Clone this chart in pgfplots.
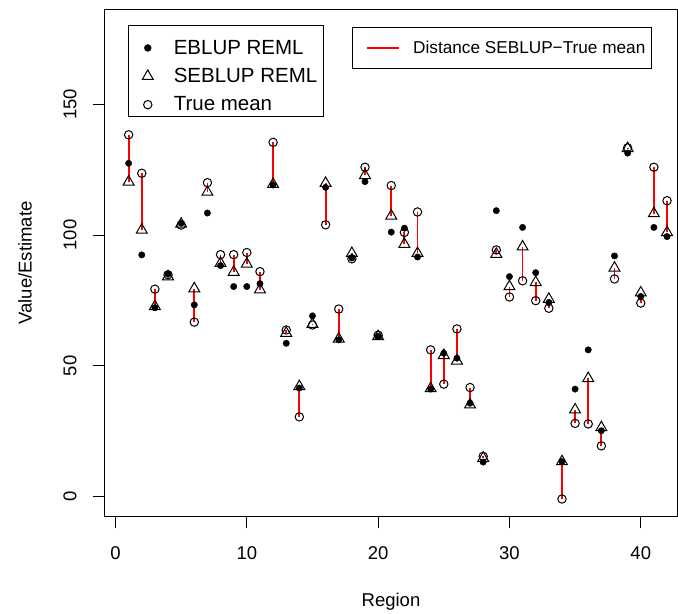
\documentclass[border=0pt]{standalone}
\usepackage{fontspec}
\setmainfont{Liberation Sans}
\usepackage{pgfplots}
\usepackage{pgfplotstable}
\pgfplotsset{compat=1.18}
\pgfplotstableread{
r e s t
1 127.4 120.3 138.3
2 92.4 101.9 123.6
3 72.2 72.7 79.3
4 85.0 84.1 84.8
5 104.5 104.2 103.8
6 73.3 79.5 66.7
7 108.4 116.4 120.0
8 88.3 89.2 92.5
9 80.3 85.8 92.5
10 80.3 88.9 93.3
11 81.4 79.1 86.0
12 119.1 119.4 135.4
13 58.6 62.5 63.7
14 41.5 42.1 30.5
15 69.1 65.9 65.6
16 118.2 119.8 103.9
17 59.9 60.3 71.7
18 91.2 93.0 90.9
19 120.4 122.8 125.9
20 61.2 61.2 61.7
21 101.1 107.3 118.9
22 102.6 96.5 101.0
23 91.6 93.0 108.8
24 41.1 41.3 56.1
25 54.8 54.0 43.0
26 52.9 51.9 64.1
27 35.7 35.1 41.7
28 13.2 14.7 15.4
29 109.3 92.7 94.3
30 84.1 80.3 76.3
31 102.9 95.5 82.5
32 85.6 81.9 74.9
33 74.2 75.5 72.0
34 13.4 13.4 -0.9
35 41.1 33.2 28.0
36 56.1 45.2 27.8
37 25.2 26.4 19.4
38 92.0 87.4 83.2
39 131.3 133.1 133.3
40 76.5 77.9 74.0
41 102.9 108.2 125.9
42 99.4 101.0 113.1
}\data
\begin{document}
\begin{tikzpicture}
\path[use as bounding box] (-105bp,-98bp) rectangle (573bp,516bp);
\begin{axis}[
  at={(0,0)}, anchor=south west,
  scale only axis, width=572bp, height=506bp,
  xmin=-0.8, xmax=42.76, ymin=-7.4, ymax=186,
  xtick={0,10,20,30,40}, ytick={0,50,100,150},
  tick align=outside, tick pos=left, major tick length=12bp,
  axis line style={line width=1bp},
  every tick/.style={black, line width=1bp},
  /pgf/number format/assume math mode=true,
  ticklabel style={font=\fontsize{18.5bp}{22bp}\selectfont},
  xticklabel style={anchor=north, yshift=-15bp},
  yticklabel style={rotate=90, anchor=south, yshift=13bp},
  xlabel={Region}, ylabel={Value/Estimate},
  label style={font=\fontsize{18.5bp}{22bp}\selectfont},
  xlabel style={at={(axis description cs:0.5,-0.170)}, anchor=center},
  ylabel style={at={(axis description cs:-0.1399,0.5)}, anchor=center},
  unbounded coords=jump,
  legend style={at={(axis description cs:0.0407,0.9704)}, anchor=north west,
    draw=black, line width=1bp, font=\fontsize{20.5bp}{24bp}\selectfont,
    inner xsep=4bp, inner ysep=2.5bp, row sep=-1.5bp},
  legend cell align=left,
  legend image code/.code={\path[draw=none,fill=none] (-15bp,-5bp) rectangle (24bp,20bp); \draw[#1] plot coordinates {(0bp,0bp)};},
]
\addplot[only marks, mark=*, mark size=3.2bp, black] table[x=r, y=e] {\data};
\addlegendentry{EBLUP REML}
\addplot[only marks, mark=triangle, mark size=6.3bp, black, line width=1bp] table[x=r, y=s] {\data};
\addlegendentry{SEBLUP REML}
\addplot[only marks, mark=o, mark size=4.2bp, black, line width=1bp] table[x=r, y=t] {\data};
\addlegendentry{True mean}
\addplot[draw=red, color=red, line width=1.8bp, no marks, forget plot] coordinates {
(1,120.3)(1,138.3)(1,nan)
(2,101.9)(2,123.6)(2,nan)
(3,72.7)(3,79.3)(3,nan)
(4,84.1)(4,84.8)(4,nan)
(5,104.2)(5,103.8)(5,nan)
(6,79.5)(6,66.7)(6,nan)
(7,116.4)(7,120.0)(7,nan)
(8,89.2)(8,92.5)(8,nan)
(9,85.8)(9,92.5)(9,nan)
(10,88.9)(10,93.3)(10,nan)
(11,79.1)(11,86.0)(11,nan)
(12,119.4)(12,135.4)(12,nan)
(13,62.5)(13,63.7)(13,nan)
(14,42.1)(14,30.5)(14,nan)
(15,65.9)(15,65.6)(15,nan)
(16,119.8)(16,103.9)(16,nan)
(17,60.3)(17,71.7)(17,nan)
(18,93.0)(18,90.9)(18,nan)
(19,122.8)(19,125.9)(19,nan)
(20,61.2)(20,61.7)(20,nan)
(21,107.3)(21,118.9)(21,nan)
(22,96.5)(22,101.0)(22,nan)
(23,93.0)(23,108.8)(23,nan)
(24,41.3)(24,56.1)(24,nan)
(25,54.0)(25,43.0)(25,nan)
(26,51.9)(26,64.1)(26,nan)
(27,35.1)(27,41.7)(27,nan)
(28,14.7)(28,15.4)(28,nan)
(29,92.7)(29,94.3)(29,nan)
(30,80.3)(30,76.3)(30,nan)
(31,95.5)(31,82.5)(31,nan)
(32,81.9)(32,74.9)(32,nan)
(33,75.5)(33,72.0)(33,nan)
(34,13.4)(34,-0.9)(34,nan)
(35,33.2)(35,28.0)(35,nan)
(36,45.2)(36,27.8)(36,nan)
(37,26.4)(37,19.4)(37,nan)
(38,87.4)(38,83.2)(38,nan)
(39,133.1)(39,133.3)(39,nan)
(40,77.9)(40,74.0)(40,nan)
(41,108.2)(41,125.9)(41,nan)
(42,101.0)(42,113.1)
};
\end{axis}
\begin{axis}[
  at={(0,0)}, anchor=south west,
  scale only axis, width=572bp, height=506bp,
  hide axis, xmin=0, xmax=1, ymin=0, ymax=1,
  legend style={at={(axis description cs:0.4313,0.967)}, anchor=north west,
    draw=black, line width=1bp, font=\fontsize{17.2bp}{20bp}\selectfont,
    inner xsep=4bp, inner ysep=11.5bp},
  legend image code/.code={\path[draw=none,fill=none] (-11bp,-3bp) rectangle (44bp,3bp); \draw[#1, draw=red, line width=1.8bp] (0bp,0bp) -- (32bp,0bp);},
]
\addlegendimage{red, line width=1.8bp}
\addlegendentry{Distance SEBLUP−True mean}
\addplot[draw=none, forget plot] coordinates {(0.5,0.5)};
\end{axis}
\end{tikzpicture}
\end{document}
